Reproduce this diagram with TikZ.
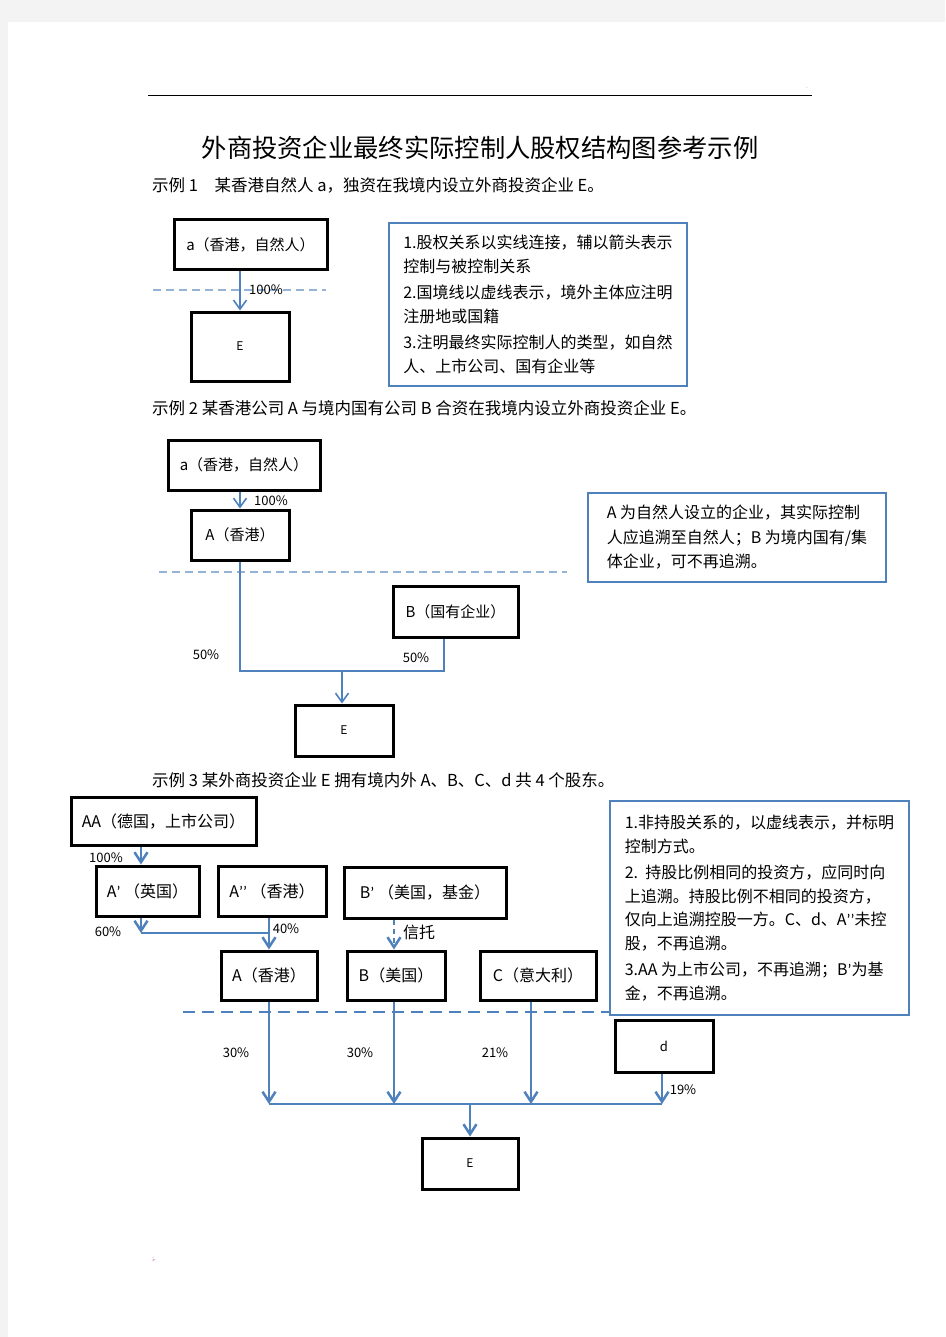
\documentclass[tikz,border=0pt]{standalone}
\usepackage{fontspec}
\setmainfont{Noto Sans CJK SC}
\newfontfamily\latinfont{Carlito}
\newcommand{\qm}{{\latinfont ’}}
\usetikzlibrary{arrows.meta}
\definecolor{lineblue}{RGB}{79,129,189}
\definecolor{dashblue}{RGB}{149,179,215}
\definecolor{pagegray}{RGB}{243,243,243}

\begin{document}
\begin{tikzpicture}[x=1pt,y=-1pt,
  holder/.style={draw=black,line width=3pt,inner sep=0pt,font=\fontsize{15}{18}\selectfont},
  notebox/.style={draw=lineblue,line width=2.5pt,align=left,inner sep=0pt,font=\fontsize{16}{23.5}\selectfont},
  heading/.style={anchor=west,inner sep=0pt,font=\fontsize{16.5}{18}\selectfont},
  pct/.style={inner sep=0pt,font=\fontsize{13}{15}\selectfont},
  share/.style={lineblue,line width=1.6pt},
  arr/.style={share,-{Straight Barb[length=9pt,width=13pt]}},
  share3/.style={lineblue,line width=2.5pt},
  arr3/.style={share3,-{Straight Barb[length=10pt,width=13pt]}},
  border/.style={dashblue,line width=2pt,dash pattern=on 8pt off 5pt}]

\fill[pagegray] (0,0) rectangle (945,1337);
\fill[white] (8,22) rectangle (945,1337);
\useasboundingbox (0,0) rectangle (945,1337);

\draw[line width=1pt] (148,96) -- (812,96);
\node[inner sep=0pt,text=lineblue,font=\fontsize{6}{6}\selectfont] (dot) at (807,88) {.};
\node[inner sep=0pt,text=violet,font=\fontsize{6}{6}\selectfont] (mark) at (154,1259) {;.};

\node[font=\fontsize{25.3}{30}\selectfont] (title) at (480,148) {外商投资企业最终实际控制人股权结构图参考示例};

% example 1
\node[heading] (head1) at (152,185) {示例 1\quad 某香港自然人 a，独资在我境内设立外商投资企业 E。};

\node[holder,minimum width=153pt,minimum height=50pt] (a1) at (250.5,245) {a（香港，自然人）};
\node[holder,minimum width=98pt,minimum height=69pt,font=\fontsize{12}{14}\selectfont] (E1) at (240,346.5) {E};
\node[notebox,minimum width=298pt,minimum height=163pt] (note1) at (538,304.5)
  {1.股权关系以实线连接，辅以箭头表示\\控制与被控制关系\\[3pt]2.国境线以虚线表示，境外主体应注明\\注册地或国籍\\[3pt]3.注明最终实际控制人的类型，如自然\\人、上市公司、国有企业等};

\draw[border] (153,290) -- (326,290);
\draw[arr] (a1.south -| E1.north) -- (E1.north);
\node[pct] (p1) at (266,290) {100\%};

% example 2
\node[heading] (head2) at (152,408) {示例 2 某香港公司 A 与境内国有公司 B 合资在我境内设立外商投资企业 E。};

\node[holder,minimum width=152pt,minimum height=50pt] (a2) at (244,465) {a（香港，自然人）};
\node[holder,minimum width=98pt,minimum height=50pt] (A2) at (240,535) {A（香港）};
\node[holder,minimum width=125pt,minimum height=51pt] (B2) at (455.5,611.5) {B（国有企业）};
\node[holder,minimum width=98pt,minimum height=51pt,font=\fontsize{12}{14}\selectfont] (E2) at (344,730.5) {E};
\node[notebox,minimum width=298pt,minimum height=89pt,font=\fontsize{16}{24.5}\selectfont] (note2) at (737,537.5)
  {A 为自然人设立的企业，其实际控制\\人应追溯至自然人；B 为境内国有/集\\体企业，可不再追溯。};

\draw[arr] (a2.south -| A2.north) -- (A2.north);
\node[pct] (p2) at (271,501) {100\%};
\draw[border] (159,572) -- (567,572);

\coordinate (j2) at (342,671);
\coordinate (k2) at (444,671);
\draw[share] (A2.south) |- (k2) -- (k2 |- B2.south);
\draw[arr] (j2) -- (j2 |- E2.north);
\node[pct] (p3) at (206,655) {50\%};
\node[pct] (p4) at (416,658) {50\%};

% example 3
\node[heading] (head3) at (152,780) {示例 3 某外商投资企业 E 拥有境内外 A、B、C、d 共 4 个股东。};

\node[holder,minimum width=185pt,minimum height=48pt,font=\fontsize{16}{18}\selectfont] (AA) at (163.5,821) {AA（德国，上市公司）};
\node[holder,minimum width=103pt,minimum height=50pt,font=\fontsize{16}{18}\selectfont] (Ap) at (147.5,891) {A\qm\ （英国）};
\node[holder,minimum width=108pt,minimum height=50pt,font=\fontsize{16}{18}\selectfont] (App) at (272,891) {A\qm\qm\ （香港）};
\node[holder,minimum width=162pt,minimum height=51pt,font=\fontsize{16}{18}\selectfont] (Bp) at (425,892.5) {B\qm\ （美国，基金）};
\node[holder,minimum width=96pt,minimum height=49pt,font=\fontsize{16}{18}\selectfont] (A3) at (269,975.5) {A（香港）};
\node[holder,minimum width=98pt,minimum height=49pt,font=\fontsize{16}{18}\selectfont] (B3) at (396,975.5) {B（美国）};
\node[holder,minimum width=116pt,minimum height=49pt,font=\fontsize{16}{18}\selectfont] (C3) at (538,975.5) {C（意大利）};
\node[holder,minimum width=98pt,minimum height=52pt,font=\fontsize{13}{15}\selectfont] (d3) at (664,1046) {d};
\node[holder,minimum width=96pt,minimum height=51pt,font=\fontsize{12}{14}\selectfont] (E3) at (470,1163.5) {E};
\node[notebox,minimum width=299pt,minimum height=214pt] (note3) at (759.5,908)
  {1.非持股关系的，以虚线表示，并标明\\控制方式。\\[3pt]2.\ \ 持股比例相同的投资方，应同时向\\上追溯。持股比例不相同的投资方，\\仅向上追溯控股一方。C、d、A\qm\qm 未控\\股，不再追溯。\\[3pt]3.AA 为上市公司，不再追溯；B\qm 为基\\金，不再追溯。};

\coordinate (k3a) at (141,933);
\coordinate (k3b) at (269,933);
\coordinate (k3c) at (394,933);
\draw[arr3] (AA.south -| k3a) -- (Ap.north -| k3a);
\node[pct] (p5) at (106,858) {100\%};
\draw[arr3] (Ap.south -| k3a) -- (k3a);
\draw[share3] (k3a) -- (k3b);
\draw[arr3] (App.south -| k3b) -- (A3.north -| k3b);
\node[pct] (p6) at (108,932) {60\%};
\node[pct] (p7) at (286,929) {40\%};
\draw[arr3,dash pattern=on 5pt off 4pt] (Bp.south -| k3c) -- (B3.north -| k3c);
\node[font=\fontsize{16}{18}\selectfont,inner sep=0pt] (trust) at (419,932) {信托};

\draw[lineblue,line width=1.3pt,dash pattern=on 12pt off 7pt] (183,1012) -- (610,1012);

\coordinate (bus1) at (269,1104);
\coordinate (bus2) at (662,1104);
\coordinate (busB) at (394,1104);
\coordinate (busC) at (531,1104);
\coordinate (busE) at (470,1104);
\draw[arr3] (A3.south -| bus1) -- (bus1);
\draw[arr3] (B3.south -| busB) -- (busB);
\draw[arr3] (C3.south -| busC) -- (busC);
\draw[arr3] (d3.south -| bus2) -- (bus2);
\draw[share3] (bus1) -- (bus2);
\draw[arr3] (busE) -- (E3.north);
\node[pct] (p8) at (236,1053) {30\%};
\node[pct] (p9) at (360,1053) {30\%};
\node[pct] (p10) at (495,1053) {21\%};
\node[pct] (p11) at (683,1090) {19\%};

\end{tikzpicture}
\end{document}
